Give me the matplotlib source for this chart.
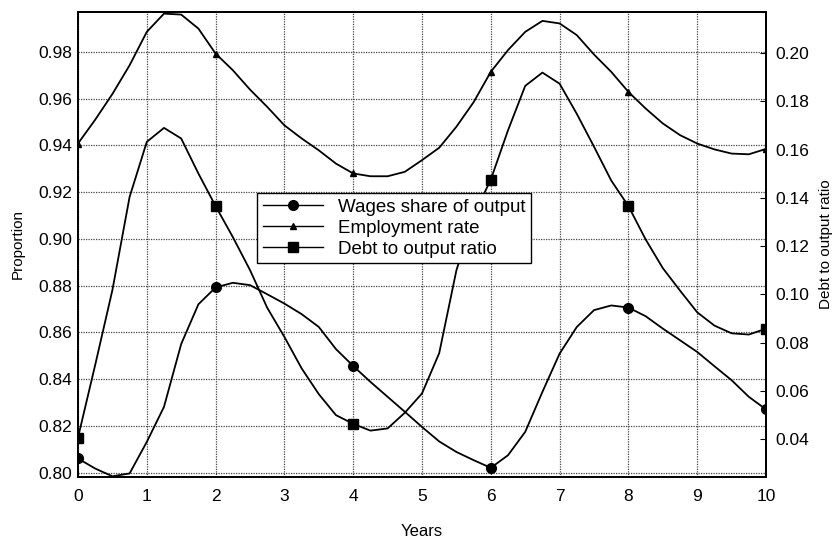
import matplotlib
matplotlib.use("Agg")
import matplotlib.pyplot as plt
from matplotlib.lines import Line2D

plt.rcParams['font.family'] = ['Liberation Sans', 'DejaVu Sans']

years = [i * 0.25 for i in range(41)]

wages = [0.8060, 0.8017, 0.7984, 0.7996, 0.8131, 0.8281, 0.8550, 0.8720,
         0.8792, 0.8812, 0.8802, 0.8763, 0.8723, 0.8678, 0.8623, 0.8528,
         0.8456, 0.8388, 0.8324, 0.8260, 0.8195, 0.8133, 0.8088, 0.8053,
         0.8020, 0.8074, 0.8174, 0.8345, 0.8509, 0.8623, 0.8695, 0.8715,
         0.8706, 0.8669, 0.8616, 0.8566, 0.8516, 0.8455, 0.8395, 0.8324,
         0.8270]

employment = [0.9408, 0.9510, 0.9620, 0.9743, 0.9886, 0.9964, 0.9960, 0.9900,
              0.9793, 0.9722, 0.9639, 0.9565, 0.9486, 0.9430, 0.9379, 0.9322,
              0.9280, 0.9268, 0.9268, 0.9287, 0.9337, 0.9390, 0.9480, 0.9585,
              0.9715, 0.9808, 0.9886, 0.9933, 0.9922, 0.9872, 0.9789, 0.9715,
              0.9629, 0.9558, 0.9494, 0.9444, 0.9408, 0.9383, 0.9365, 0.9362,
              0.9385]

debt = [0.0407, 0.0708, 0.1018, 0.1404, 0.1632, 0.1690, 0.1646, 0.1501,
        0.1366, 0.1238, 0.1101, 0.0945, 0.0824, 0.0694, 0.0587, 0.0500,
        0.0464, 0.0436, 0.0445, 0.0510, 0.0590, 0.0757, 0.1100, 0.1327,
        0.1476, 0.1680, 0.1864, 0.1919, 0.1873, 0.1748, 0.1612, 0.1472,
        0.1366, 0.1228, 0.1109, 0.1016, 0.0926, 0.0871, 0.0839, 0.0834,
        0.0858]

left_ticks = [0.80, 0.82, 0.84, 0.86, 0.88, 0.90, 0.92, 0.94, 0.96, 0.98]
right_ticks = [0.04, 0.06, 0.08, 0.10, 0.12, 0.14, 0.16, 0.18, 0.20]
x_ticks = list(range(11))
labels = ["Wages share of output", "Employment rate", "Debt to output ratio"]

marker_idx = list(range(0, 41, 8))

fig = plt.figure(figsize=(8.35, 5.38), dpi=100)
ax = fig.add_axes([0.0934, 0.1139, 0.8240, 0.8638])
ax2 = ax.twinx()

grid_kw = dict(color='#444444', linestyle=(0, (1, 1)), linewidth=0.9)
ax.set_xlim(0, 10)
ax.set_ylim(0.7982, 0.9971)
ax2.set_ylim(0.0245, 0.2170)
ax.set_xticks(x_ticks)
ax.set_yticks(left_ticks)
ax.set_yticklabels([f"{v:.2f}" for v in left_ticks])
ax2.set_yticks(right_ticks)
ax2.set_yticklabels([f"{v:.2f}" for v in right_ticks])
ax.grid(True, **grid_kw)
ax.set_axisbelow(True)

ax.tick_params(axis='both', length=0, labelsize=12.5, pad=4)
ax.tick_params(axis='x', pad=9)
ax2.tick_params(axis='y', direction='in', length=4, labelsize=12.5, pad=7)

for a in (ax, ax2):
    for s in a.spines.values():
        s.set_linewidth(1.4)
        s.set_color('black')

lw = 1.3
ax.plot(years, wages, color='black', lw=lw, marker='o', markersize=7,
        markevery=marker_idx)
ax.plot(years, employment, color='black', lw=lw, marker='^', markersize=5,
        markevery=marker_idx)
ax2.plot(years, debt, color='black', lw=lw, marker='s', markersize=7,
         markevery=marker_idx)

ax.set_xlabel("Years", fontsize=12, labelpad=14)
ax.set_ylabel("Proportion", fontsize=11, labelpad=10)
ax2.set_ylabel("Debt to output ratio", fontsize=11, labelpad=7)

handles = [Line2D([0], [0], color='black', lw=1.0, marker='o', markersize=7),
           Line2D([0], [0], color='black', lw=1.0, marker='^', markersize=5),
           Line2D([0], [0], color='black', lw=1.0, marker='s', markersize=7)]
leg = ax2.legend(handles, labels, loc='upper left', fontsize=13.5,
                 frameon=True, fancybox=False, framealpha=1, edgecolor='black',
                 borderpad=0.3, labelspacing=0.2, handlelength=3.2,
                 handletextpad=0.8, borderaxespad=0)
leg.set_bbox_to_anchor((257 / 835, (538 - 193) / 538), transform=fig.transFigure)
leg.get_frame().set_linewidth(1.0)

fig.savefig("out.png", dpi=100)
